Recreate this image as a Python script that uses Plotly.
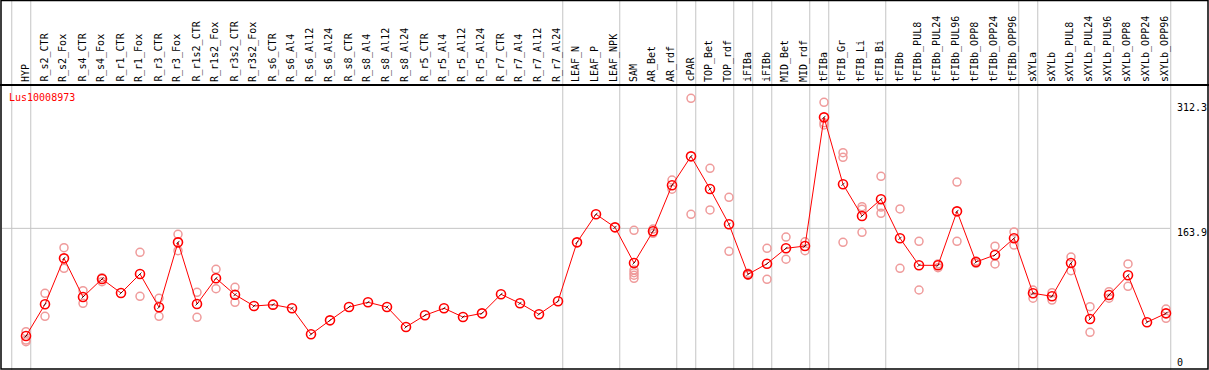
import plotly.graph_objects as go

# ---------------- data ----------------
categories = [
    "HYP", "R_s2_CTR", "R_s2_Fox", "R_s4_CTR", "R_s4_Fox", "R_r1_CTR", "R_r1_Fox",
    "R_r3_CTR", "R_r3_Fox", "R_r1s2_CTR", "R_r1s2_Fox", "R_r3s2_CTR", "R_r3s2_Fox",
    "R_s6_CTR", "R_s6_Al4", "R_s6_Al12", "R_s6_Al24", "R_s8_CTR", "R_s8_Al4",
    "R_s8_Al12", "R_s8_Al24", "R_r5_CTR", "R_r5_Al4", "R_r5_Al12", "R_r5_Al24",
    "R_r7_CTR", "R_r7_Al4", "R_r7_Al12", "R_r7_Al24", "LEAF_N", "LEAF_P", "LEAF_NPK",
    "SAM", "AR_Bet", "AR_rdf", "cPAR", "TOP_Bet", "TOP_rdf", "iFIBa", "iFIBb",
    "MID_Bet", "MID_rdf", "tFIBa", "tFIB_Gr", "tFIB_Li", "tFIB_Bi", "tFIBb",
    "tFIBb_PUL8", "tFIBb_PUL24", "tFIBb_PUL96", "tFIBb_OPP8", "tFIBb_OPP24",
    "tFIBb_OPP96", "sXYLa", "sXYLb", "sXYLb_PUL8", "sXYLb_PUL24", "sXYLb_PUL96",
    "sXYLb_OPP8", "sXYLb_OPP24", "sXYLb_OPP96",
]

means = [
    36.1, 73.7, 128.3, 82.4, 103.8, 87.1, 109.7, 70.2, 147.3, 74.1, 104.6, 85.1, 71.7,
    73.3, 69.0, 38.1, 54.7, 70.5, 76.1, 70.5, 46.8, 60.7, 69.0, 58.6, 63.0,
    85.6, 74.9, 61.9, 77.3, 147.3, 180.6, 165.1,
    122.8, 160.4, 215.0, 249.4, 210.6, 168.7, 109.3, 121.9, 140.2, 142.9,
    295.7, 216.2, 178.6, 198.4, 152.1, 120.0, 120.0, 184.1, 123.9, 132.3, 152.1,
    86.8, 83.2, 122.8, 56.3, 84.8, 108.2, 52.4, 63.0,
]

replicates = [
    [41.2, 31.3, 29.3], [86.8, 59.5], [140.9, 116.5], [89.9, 74.9], [105.3, 100.6],
    [], [135.5, 83.2], [80.9, 59.5], [156.8, 137.4], [88.0, 58.3], [115.3, 92.2],
    [93.9, 76.1], [],
    [], [], [], [], [], [], [], [], [], [], [], [],
    [], [], [], [], [], [], [],
    [161.6, 114.4, 111.2, 108.2, 104.6], [163.1, 158.0], [221.3, 210.3],
    [318.3, 180.6], [235.2, 185.7], [200.8, 136.6], [110.5, 108.2], [140.2, 103.4],
    [153.6, 127.2], [148.0, 137.4],
    [313.5, 289.3, 286.6], [253.7, 248.2, 147.3], [189.6, 186.5, 159.2],
    [225.7, 189.2, 181.8], [186.9, 116.5], [148.5, 90.7], [117.2, 121.6],
    [218.9, 148.5], [125.1, 122.4], [142.7, 121.6], [159.6, 144.1],
    [90.7, 80.9], [87.5, 78.8], [129.9, 113.6], [70.9, 40.5], [88.7, 80.9],
    [121.6, 95.1], [], [68.1, 57.1],
]

# group separators: drawn just after these category indices
group_breaks = [-1, 0, 28, 31, 34, 35, 37, 38, 39, 41, 42, 45, 52, 53, 60]

gene_id = "Lus10008973"
tick_values = [312.3, 163.9, 0]
tick_labels = ["312.3", "163.9", "0"]
grid_value = 163.9

# ---------------- geometry ----------------
W, H = 1209, 370
X0_PX, STEP_PX = 26.0, 19.0          # pixel x of first category, spacing
Y0_PX, PX_PER_UNIT = 366.4, 0.8423   # pixel y of value 0, pixels per unit
HEADER_PX = 85
RIGHT_PX = 1170

x_range = [-X0_PX / STEP_PX, (W - X0_PX) / STEP_PX]
y_range = [(Y0_PX - H) / PX_PER_UNIT, Y0_PX / PX_PER_UNIT]

xs = list(range(len(categories)))
rep_x, rep_y = [], []
for i, vals in enumerate(replicates):
    for v in vals:
        rep_x.append(i)
        rep_y.append(v)

MONO = "DejaVu Sans Mono"

fig = go.Figure()
fig.add_trace(go.Scatter(
    x=rep_x, y=rep_y, mode="markers", hoverinfo="skip",
    marker=dict(symbol="circle-open", size=8, color="#ef9b9b", line=dict(width=1.5)),
))
fig.add_trace(go.Scatter(
    x=xs, y=means, mode="lines+markers",
    line=dict(color="#ff0000", width=1),
    marker=dict(symbol="circle-open", size=9, color="#ff0000", line=dict(width=1.6)),
))
fig.add_trace(go.Scatter(
    x=xs, y=means, mode="markers", hoverinfo="skip",
    marker=dict(symbol="line-ne", size=3, color="#000000", line=dict(width=0.8, color="#000000")),
))

shapes = []
# vertical group separators
for b in group_breaks:
    shapes.append(dict(type="line", xref="x", yref="paper", x0=b + 0.25, x1=b + 0.25,
                       y0=0, y1=1, line=dict(color="#c4c4c4", width=1), layer="below"))
# horizontal grid line
shapes.append(dict(type="line", xref="paper", yref="y", x0=2 / W, x1=RIGHT_PX / W,
                   y0=grid_value, y1=grid_value, line=dict(color="#c4c4c4", width=1),
                   layer="below"))
# header separator
shapes.append(dict(type="line", xref="paper", yref="paper", x0=0, x1=1,
                   y0=1 - HEADER_PX / H, y1=1 - HEADER_PX / H,
                   line=dict(color="#000000", width=2)))
# frame
shapes.append(dict(type="rect", xref="paper", yref="paper", x0=1 / W, x1=(W - 1) / W,
                   y0=1 / H, y1=1 - 0.5 / H, line=dict(color="#000000", width=1.5)))

annotations = []
for i, c in enumerate(categories):
    annotations.append(dict(
        text=c, x=i, xref="x", y=1 - 83 / H, yref="paper", xanchor="center",
        yanchor="bottom", textangle=-90, showarrow=False, borderpad=0, xshift=-1,
        font=dict(family=MONO, size=10, color="#000000"),
    ))
annotations.append(dict(
    text=gene_id, x=8 / W, xref="paper", y=1 - 98 / H, yref="paper",
    xanchor="left", yanchor="middle", showarrow=False, borderpad=0,
    font=dict(family=MONO, size=10, color="#ff0000"),
))
for v, t in zip(tick_values, tick_labels):
    ypix = Y0_PX - v * PX_PER_UNIT + 4
    ypix = min(ypix, 362)
    annotations.append(dict(
        text=t, x=1176 / W, xref="paper", y=1 - ypix / H, yref="paper",
        xanchor="left", yanchor="middle", showarrow=False, borderpad=0,
        font=dict(family=MONO, size=10, color="#000000"),
    ))

fig.update_layout(
    width=W, height=H, autosize=False,
    margin=dict(l=0, r=0, t=0, b=0, pad=0),
    paper_bgcolor="white", plot_bgcolor="white",
    showlegend=False,
    xaxis=dict(range=x_range, visible=False, fixedrange=True),
    yaxis=dict(range=y_range, visible=False, fixedrange=True),
    shapes=shapes, annotations=annotations,
)

fig.write_html(
    "out.html",
    config={"displayModeBar": False},
    post_script="document.body.style.margin='0px';document.body.style.overflow='hidden';",
)
